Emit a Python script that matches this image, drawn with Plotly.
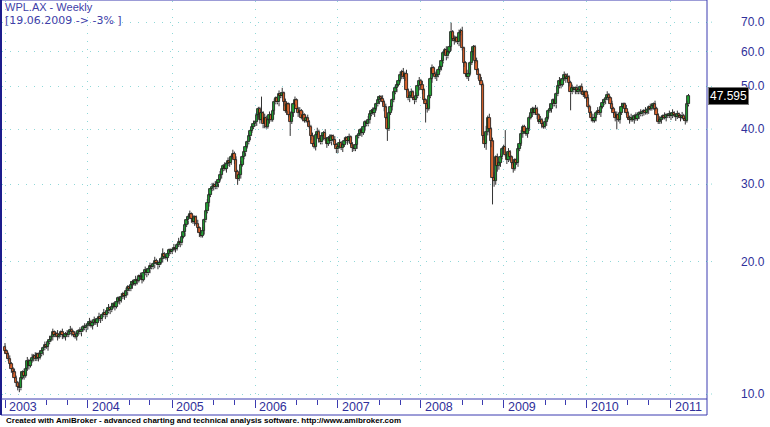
import numpy as np
import plotly.graph_objects as go

# ---------------- data (weekly closes) ----------------
c2003 = [12.5,12.3,12.0,11.7,11.4,11.2,10.9,10.6,10.4,10.3,10.9,11.2,11.0,11.4,11.9,11.6,11.9,12.1,12.2,12.0,
         12.3,12.1,12.3,12.5,12.7,12.9,12.8,13.1,13.3,13.5,13.8,13.6,13.7,13.5,13.6,13.8,13.6,13.5,13.7,13.6,
         13.8,14.0,13.8,13.6,13.5,13.7,13.9,13.8,14.0,14.2,14.1,14.3]
c2004 = [14.4,14.6,14.3,14.5,14.7,14.5,14.8,15.0,14.8,15.1,15.3,15.1,15.4,15.7,15.5,15.8,16.0,15.8,16.2,16.5,
         16.3,16.6,16.9,16.7,17.1,17.5,17.3,17.7,18.0,17.8,18.2,18.1,18.5,18.4,18.2,18.8,19.1,18.8,19.2,19.5,
         19.4,19.7,20.1,19.9,19.6,19.9,20.3,20.8,20.5,20.4,20.8,21.2,21.0]
c2005 = [21.3,21.5,21.4,21.8,22.2,22.0,22.8,23.3,24.2,24.8,25.3,25.6,25.0,24.6,25.2,24.4,23.8,23.2,22.9,23.5,
         24.8,26.0,27.2,28.3,29.2,29.6,29.9,29.5,30.1,30.7,31.5,32.4,33.0,32.5,33.3,33.8,33.5,34.6,35.2,34.0,
         32.0,30.8,31.5,33.2,34.5,35.4,36.5,37.3,38.5,39.6,40.4,41.0]
c2006 = [41.5,43.0,44.5,42.0,43.5,41.0,42.5,40.5,42.0,43.0,42.0,44.0,46.0,47.0,46.0,48.0,47.5,48.2,46.0,44.0,
         45.5,43.0,41.5,43.5,45.5,46.5,44.5,43.5,44.0,42.5,43.0,41.8,42.3,41.5,40.5,38.5,37.0,36.5,38.8,39.5,
         38.0,37.3,38.5,39.2,38.0,37.0,38.2,37.5,38.5,37.8,36.8,36.0]
c2007 = [36.5,37.2,36.2,36.8,37.5,38.2,37.6,38.3,37.0,36.2,36.0,36.8,38.5,39.0,39.8,39.2,40.5,41.5,41.0,42.0,
         43.2,44.0,43.5,44.5,45.5,46.5,47.3,46.8,46.0,44.8,42.5,40.0,43.5,45.0,46.5,48.5,49.5,50.5,51.5,53.0,
         54.0,52.5,53.5,49.0,47.0,47.5,48.5,47.0,46.5,47.5,50.0,51.5]
c2008 = [50.5,49.0,46.5,45.5,44.5,47.5,52.0,55.0,53.5,52.5,53.0,54.5,55.5,57.0,59.5,60.5,58.5,60.0,61.5,66.5,
         64.0,63.5,64.5,63.0,66.0,67.0,61.0,56.5,53.5,52.5,53.5,56.5,60.0,61.5,57.0,54.5,53.0,51.5,50.5,38.5,
         37.0,39.5,42.5,40.0,37.5,31.0,30.5,34.5,33.0,33.5,34.5,36.0]
c2009 = [36.5,35.0,34.0,35.5,34.5,33.5,32.5,34.0,33.5,36.0,37.0,39.0,40.5,39.5,39.0,40.0,42.5,43.5,44.5,43.5,
         44.5,43.0,41.5,42.0,41.0,40.5,41.5,42.5,44.0,44.5,45.5,46.5,45.5,48.0,50.0,51.5,50.5,52.0,53.0,52.0,
         52.5,51.0,48.5,49.5,49.0,49.5,48.5,49.0,49.8,48.5,47.8,48.5]
c2010 = [47.0,45.0,43.5,42.5,41.8,42.5,43.5,44.0,43.5,45.0,45.8,46.5,47.0,47.8,47.0,45.5,44.5,43.5,42.5,43.0,
         42.0,43.5,45.0,45.5,44.5,43.5,42.5,42.0,42.5,42.0,42.8,42.2,43.0,43.5,43.2,43.8,44.0,43.6,44.2,44.8,
         44.5,45.2,45.5,44.5,43.0,41.5,42.0,42.5,42.8,42.5,43.0,42.8,43.2]
c2011 = [42.8,43.5,43.0,42.6,43.2,42.8,42.5,42.9,42.2,41.8,45.5,47.595]

# upper / lower wick sizes (percent beyond the candle body)
u2003 = [2,1,1,2,1,1,2,1,1,1,3,1,2,1,2,1,1,2,1,2,1,1,2,1,1,2,1,1,2,1,2,1,1,2,1,1,2,1,1,2,1,2,1,1,2,1,1,2,1,1,2,1]
d2003 = [1,2,1,1,2,1,1,2,2,2,1,1,2,1,1,2,1,1,2,1,1,2,1,1,2,1,1,2,1,1,2,1,1,2,1,1,2,1,2,1,1,1,2,1,1,2,1,1,2,1,1,2]
u2004 = [1,2,1,1,2,1,1,2,1,1,2,1,1,2,1,2,1,1,2,1,1,2,1,1,2,1,1,2,1,1,2,1,1,2,1,1,2,1,1,2,1,1,2,1,1,2,1,3,1,1,2,1,1]
d2004 = [2,1,1,2,1,1,2,1,2,1,1,2,1,1,2,1,1,2,1,1,2,1,1,2,1,2,1,1,2,1,1,2,1,1,2,1,1,2,1,2,1,1,2,1,2,1,1,2,1,1,2,1,1]
u2005 = [1,2,1,1,2,1,1,2,1,2,1,2,1,2,1,1,2,1,1,2,1,1,2,1,1,2,1,2,1,1,2,1,1,2,1,2,1,1,2,1,2,1,1,2,1,1,2,1,2,1,1,2]
d2005 = [1,1,2,1,1,2,1,1,2,1,2,1,2,1,2,1,2,2,1,1,2,1,1,2,1,1,2,1,1,2,1,2,1,1,2,1,2,1,1,2,3,3,1,2,1,1,2,1,1,2,1,1]
u2006 = [1,2,1,1,9,1,2,1,1,2,1,1,2,1,1,2,1,3,1,2,1,1,2,1,1,2,1,1,2,1,2,1,1,2,1,1,2,1,1,2,1,2,1,1,2,1,1,2,1,1,2,1]
d2006 = [1,2,1,2,1,2,2,1,1,2,1,1,2,1,1,2,1,1,2,1,2,1,7,1,2,1,1,2,1,1,2,1,1,2,1,2,1,1,2,1,2,1,1,2,1,2,1,1,2,1,1,2]
u2007 = [1,2,1,1,2,1,1,2,1,1,2,1,1,2,1,1,2,1,1,2,1,1,2,1,1,2,1,1,2,1,2,1,1,2,1,1,2,1,1,2,1,2,1,2,1,1,2,1,1,2,1,2]
d2007 = [2,1,1,2,1,1,2,1,1,2,1,1,2,1,1,2,1,2,1,1,2,1,1,2,1,1,2,1,1,2,1,6,1,1,2,1,1,2,1,1,2,1,2,1,1,2,1,1,2,1,1,2]
u2008 = [1,2,1,1,2,1,1,2,1,1,2,1,1,2,1,1,2,1,1,5,1,2,1,1,2,1,2,1,1,2,1,1,2,1,1,2,1,1,2,1,2,3,1,2,1,2,3,1,2,1,2,1]
d2008 = [1,2,1,9,2,1,1,2,1,1,2,1,1,2,1,1,2,1,1,2,1,2,1,1,2,1,1,2,1,1,2,1,1,2,1,1,2,1,1,2,2,3,2,2,3,13,3,2,3,2,2,1]
u2009 = [1,9,1,2,1,1,2,1,1,2,1,2,1,1,2,1,1,2,1,1,2,1,1,2,1,1,2,1,1,2,1,1,2,1,1,2,1,1,2,1,2,1,1,2,1,1,2,1,1,2,1,1]
d2009 = [2,1,2,1,2,1,2,1,1,2,1,1,2,1,1,2,1,1,2,1,1,2,1,1,2,1,1,2,1,1,2,1,1,2,1,1,2,1,1,2,1,2,9,1,1,2,1,1,2,1,1,2]
u2010 = [1,2,1,1,2,1,1,2,1,1,2,1,1,2,1,1,2,1,1,2,1,1,2,1,1,2,1,1,2,1,1,2,1,1,2,1,1,2,1,1,2,1,1,2,1,1,2,1,1,2,1,1,2]
d2010 = [2,1,1,2,1,1,2,1,1,2,1,1,2,1,1,2,1,1,2,6,1,2,1,1,2,1,1,2,1,1,2,1,1,2,1,1,2,1,1,2,1,1,2,1,3,1,1,2,1,1,2,1,1]
u2011 = [1,2,1,1,2,1,1,2,1,1,2,1]
d2011 = [2,1,1,2,1,1,2,1,1,2,1,1]

first_open = 12.8
year_labels = ["2003", "2004", "2005", "2006", "2007", "2008", "2009", "2010", "2011"]
price_ticks = [10, 20, 30, 40, 50, 60, 70]
tick_text = ["10.0", "20.0", "30.0", "40.0", "50.0", "60.0", "70.0"]
last_price_text = "47.595"

# ---------------- assemble ----------------
year_closes = [c2003, c2004, c2005, c2006, c2007, c2008, c2009, c2010, c2011]
ups = u2003 + u2004 + u2005 + u2006 + u2007 + u2008 + u2009 + u2010 + u2011
dns = d2003 + d2004 + d2005 + d2006 + d2007 + d2008 + d2009 + d2010 + d2011
closes = sum(year_closes, [])
n = len(closes)
opens = [first_open] + closes[:-1]
highs = [max(o, c) * (1 + u / 100) for o, c, u in zip(opens, closes, ups)]
lows = [min(o, c) * (1 - d / 100) for o, c, d in zip(opens, closes, dns)]
xs = list(range(n))

year_starts = []
k = 0
for yc in year_closes:
    year_starts.append(k)
    k += len(yc)
minor_ticks = []
for s in year_starts:
    for off in (26, 39):
        if s + off < n + 5:
            minor_ticks.append(s + off)

# ---------------- geometry (pixels) ----------------
W, H = 770, 427
PL, PR, PT, PB = 2, 707, 1, 399          # plot area in pixels
bar_px = (688.5 - 5) / (n - 1)
x0 = -(5 - PL) / bar_px
x1 = x0 + (PR - PL) / bar_px
ylo = 1 + (394 - PB) / 440
yhi = 1 + (394 - PT) / 440

def px(xp):
    return (xp - PL) / (PR - PL)

def py(yp):
    return (PB - yp) / (PB - PT)

BLUE = "#30309a"
FRAME = "#3b3bb0"
GRID = "#8fd8d8"
UPC = "#22a033"
DNC = "#d9622b"

fig = go.Figure()

# wicks (only the parts outside the bodies)
wx, wy = [], []
for i in range(n):
    top = max(opens[i], closes[i])
    bot = min(opens[i], closes[i])
    wx += [i, i, None, i, i, None]
    wy += [highs[i], top, None, bot, lows[i], None]
fig.add_trace(go.Scatter(x=wx, y=wy, mode="lines", line=dict(color="#333333", width=1),
                         hoverinfo="skip", showlegend=False, connectgaps=False))

# bodies
bx, bb, bh, bc = [], [], [], []
for i in range(n):
    top = max(opens[i], closes[i])
    bot = min(opens[i], closes[i])
    bx.append(i)
    bb.append(bot)
    bh.append(max(top - bot, bot * 0.002))
    bc.append(UPC if closes[i] >= opens[i] else DNC)
fig.add_trace(go.Bar(x=bx, y=bh, base=bb, width=1.45, marker=dict(color=bc, line=dict(color="#111111", width=0.8)),
                     hoverinfo="skip", showlegend=False))

fig.update_layout(
    width=W, height=H,
    margin=dict(l=PL, r=W - PR, t=PT, b=H - PB, pad=0),
    paper_bgcolor="white", plot_bgcolor="white",
    showlegend=False, barmode="overlay", bargap=0,
    font=dict(family="Arial, Liberation Sans, sans-serif"),
    xaxis=dict(
        range=[x0, x1],
        tickvals=year_starts, showticklabels=False,
        ticks="outside", ticklen=8, tickwidth=1, tickcolor=FRAME,
        showgrid=True, gridcolor=GRID, griddash="1px,7px", gridwidth=1,
        minor=dict(tickvals=minor_ticks, ticks="outside", ticklen=5, tickwidth=1,
                   tickcolor=FRAME, showgrid=False),
        zeroline=False, showline=False, fixedrange=True,
    ),
    yaxis=dict(
        type="log", range=[ylo, yhi], side="right",
        tickvals=price_ticks, showticklabels=False, ticks="",
        showgrid=True, gridcolor=GRID, griddash="1px,7px", gridwidth=1,
        zeroline=False, showline=False, fixedrange=True,
    ),
)

shapes = [
    dict(type="rect", xref="paper", yref="paper", x0=px(1), x1=px(707), y0=py(415), y1=py(0),
         line=dict(color=FRAME, width=1), fillcolor="rgba(0,0,0,0)", layer="above"),
    dict(type="line", xref="paper", yref="paper", x0=px(1), x1=px(1), y0=py(415), y1=py(0),
         line=dict(color="#1c1c8c", width=2), layer="above"),
    dict(type="line", xref="paper", yref="paper", x0=px(1), x1=px(707), y0=py(399), y1=py(399),
         line=dict(color=FRAME, width=1), layer="above"),
]
for v in price_ticks:
    shapes.append(dict(type="line", xref="paper", yref="y", x0=px(707), x1=px(713),
                       y0=v, y1=v, line=dict(color=GRID, width=1, dash="1px,3px")))
fig.update_layout(shapes=shapes)

ann = []
ann.append(dict(xref="paper", yref="paper", x=px(3), y=py(-1), xanchor="left", yanchor="top",
                text="WPL.AX - Weekly", showarrow=False, font=dict(size=11, color="#4040a8")))
ann.append(dict(xref="paper", yref="paper", x=px(3), y=py(12), xanchor="left", yanchor="top",
                text="[19.06.2009 -> -3% ]", showarrow=False,
                font=dict(size=11, color="#4040a8", family="DejaVu Sans, Arial, sans-serif")))
for v, t in zip(price_ticks, tick_text):
    ann.append(dict(xref="paper", yref="y", x=px(767), y=np.log10(v), xanchor="right", yanchor="middle",
                    text=t, showarrow=False, font=dict(size=12, color=BLUE)))
for s, lab in zip(year_starts, year_labels):
    xpix = 5 + s * bar_px + 2
    ann.append(dict(xref="paper", yref="paper", x=px(xpix), y=py(407), xanchor="left", yanchor="middle",
                    text=lab, showarrow=False, font=dict(size=12.5, color=BLUE)))
ann.append(dict(xref="paper", yref="y", x=px(708), y=np.log10(closes[-1]), xanchor="left", yanchor="middle",
                text=last_price_text, showarrow=False, bgcolor="black", bordercolor="#777777",
                borderwidth=1, borderpad=1, font=dict(size=12, color="white")))
ann.append(dict(xref="paper", yref="paper", x=px(4), y=py(421), xanchor="left", yanchor="middle",
                text="<b>Created with AmiBroker - advanced charting and technical analysis software. http://www.amibroker.com</b>",
                showarrow=False, font=dict(size=8, color="black")))
fig.update_layout(annotations=ann)

fig.write_html("out.html", config={"displayModeBar": False},
               post_script="document.body.style.margin='0';document.body.style.padding='0';")
